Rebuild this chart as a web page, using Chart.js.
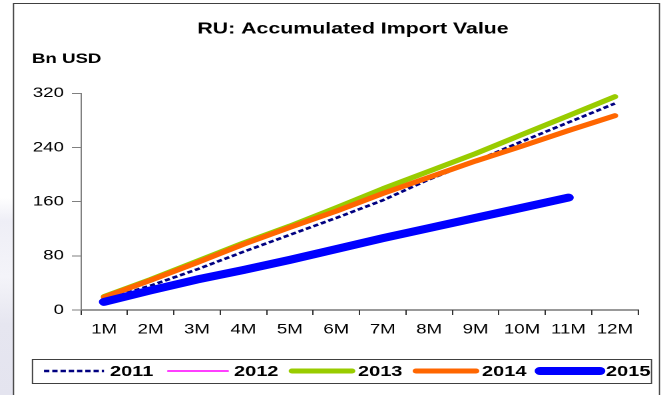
<!DOCTYPE html>
<html>
<head>
<meta charset="utf-8">
<script src="https://cdn.jsdelivr.net/npm/chart.js@4"></script>
<style>
  html, body { margin: 0; padding: 0; }
  body { width: 667px; height: 395px; overflow: hidden; background: #ffffff; position: relative; }
  #side {
    position: absolute; left: 0; top: 0; width: 14px; height: 395px;
    background: linear-gradient(to bottom, #ffffff 0%, #ffffff 50%, #eeeef6 56%, #f4f4f9 70%, #e6e6f0 82%, #e4e4ef 100%);
  }
  /* the chart is laid out narrow and widened, which gives the wide lettering */
  #wrap { position: absolute; left: 0; top: 0; width: 501px; height: 395px; transform: scaleX(1.3313); transform-origin: 0 0; }
</style>
</head>
<body>
<div id="side"></div>
<div id="wrap"><canvas id="chart" width="501" height="395"></canvas></div>
<script>
(function () {
    const months = ['1M', '2M', '3M', '4M', '5M', '6M', '7M', '8M', '9M', '10M', '11M', '12M'];
    const yearLabels = ['2011', '2012', '2013', '2014', '2015'];

    // accumulated imports, bn USD
    const v2011 = [15, 36, 60, 86, 111, 136, 162, 193, 220, 249, 277, 305];
    const v2012 = [20, 45, 71, 97, 123, 150, 177, 203, 230, 259, 287, 317];
    const v2013 = [20, 45, 72, 99, 124, 151, 179, 205, 231, 259, 287, 315];
    const v2014 = [19, 44, 70, 97, 122, 146, 172, 196, 220, 242, 265, 287];
    const v2015 = [12, 29, 45, 59, 74, 90, 106, 121, 136, 151, 166];

    const yTicks = [0, 80, 160, 240, 320];

    const FONT = 'Arial, "Liberation Sans", sans-serif';
    const SX = 667 / 501;

    // panel, title, unit label and the boxed legend row
    const panel = {
        id: 'panel',
        beforeDraw(chart) {
            const ctx = chart.ctx;
            ctx.save();
            ctx.fillStyle = '#ffffff';
            ctx.fillRect(13 / SX, 3, 646 / SX, 400);
            ctx.strokeStyle = '#404040';
            ctx.lineWidth = 1;
            ctx.beginPath();
            ctx.moveTo(13.5 / SX, 400);
            ctx.lineTo(13.5 / SX, 3.5);
            ctx.lineTo(659.5 / SX, 3.5);
            ctx.lineTo(659.5 / SX, 400);
            ctx.stroke();
            ctx.restore();
        },
        afterDraw(chart) {
            const ctx = chart.ctx;
            ctx.save();
            ctx.fillStyle = '#000';
            ctx.textBaseline = 'middle';
            ctx.font = 'bold 16px ' + FONT;
            ctx.textAlign = 'center';
            ctx.fillText('RU: Accumulated Import Value', 353 / SX, 29);
            ctx.font = 'bold 14px ' + FONT;
            ctx.textAlign = 'left';
            ctx.fillText('Bn USD', 32 / SX, 59);

            ctx.strokeStyle = '#404040';
            ctx.lineWidth = 1;
            ctx.strokeRect(32.5 / SX, 359.5, 619 / SX, 24);

            const y = 371;
            chart.data.datasets.forEach((ds, i) => {
                const x0 = (44 + i * 124) / SX;
                const len = 60 / SX;
                ctx.save();
                ctx.strokeStyle = ds.borderColor;
                ctx.lineWidth = ds.borderWidth;
                ctx.lineCap = ds.borderCapStyle || 'round';
                ctx.setLineDash(ds.borderDash || []);
                ctx.beginPath();
                ctx.moveTo(x0, y);
                ctx.lineTo(x0 + len, y);
                ctx.stroke();
                ctx.restore();
                ctx.fillStyle = '#000';
                ctx.font = 'bold 15px ' + FONT;
                ctx.fillText(ds.label, x0 + len + 6 / SX, y + 1);
            });
            ctx.restore();
        }
    };

    new Chart(document.getElementById('chart'), {
        type: 'line',
        data: {
            labels: months,
            datasets: [
                { label: yearLabels[0], data: v2011, borderColor: '#000080', backgroundColor: '#000080', borderWidth: 2.6, borderDash: [4, 2.2], borderCapStyle: 'butt', order: 5 },
                { label: yearLabels[1], data: v2012, borderColor: '#ff00ff', backgroundColor: '#ff00ff', borderWidth: 1.5, order: 4 },
                { label: yearLabels[2], data: v2013, borderColor: '#99cc00', backgroundColor: '#99cc00', borderWidth: 5, order: 3 },
                { label: yearLabels[3], data: v2014, borderColor: '#ff6600', backgroundColor: '#ff6600', borderWidth: 5, order: 2 },
                { label: yearLabels[4], data: v2015, borderColor: '#0000ff', backgroundColor: '#0000ff', borderWidth: 8, order: 1 },
            ],
        },
        options: {
            responsive: false,
            animation: false,
            devicePixelRatio: 2,
            layout: { padding: { left: 20, right: 21.7, top: 93.3, bottom: 55 } },
            elements: {
                point: { radius: 0, hoverRadius: 0 },
                line: { tension: 0, borderCapStyle: 'round', borderJoinStyle: 'round', fill: false },
            },
            plugins: {
                tooltip: { enabled: false },
                title: { display: false },
                legend: { display: false },
            },
            scales: {
                x: {
                    offset: true,
                    afterFit: (scale) => { scale.height = 30; },
                    grid: { display: true, offset: true, drawOnChartArea: false, tickLength: 5, color: '#333' },
                    border: { color: '#333', width: 1 },
                    ticks: { color: '#000', font: { family: FONT, size: 14 }, padding: 6, maxRotation: 0, autoSkip: false },
                },
                y: {
                    min: 0,
                    max: 320,
                    afterBuildTicks: (scale) => { scale.ticks = yTicks.map((v) => ({ value: v })); },
                    afterFit: (scale) => { scale.width = 60.8 - 20; },
                    grid: { display: true, drawOnChartArea: false, tickLength: 6.8, color: '#808080' },
                    border: { color: '#808080', width: 1 },
                    ticks: { color: '#000', font: { family: FONT, size: 14 }, padding: 6 },
                },
            },
        },
        plugins: [panel],
    });
})();
</script>
</body>
</html>
